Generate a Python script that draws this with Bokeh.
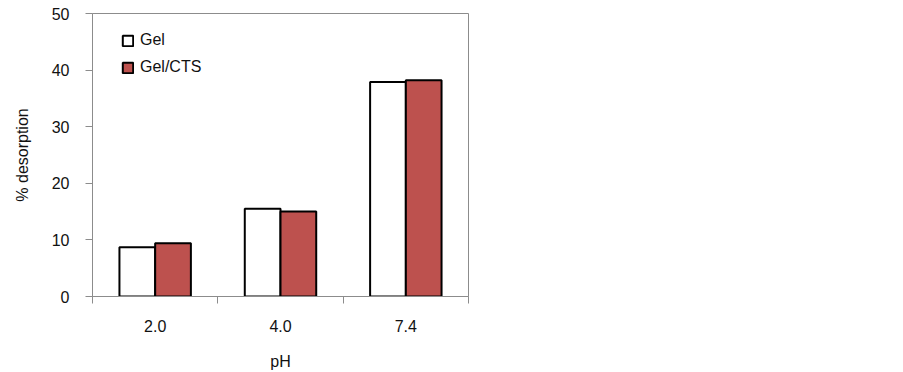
from bokeh.plotting import figure
from bokeh.models import ColumnDataSource, FixedTicker, Range1d, Legend, LegendItem
from bokeh.embed import file_html
from bokeh.resources import INLINE

categories = ["2.0", "4.0", "7.4"]
gel = [8.7, 15.5, 37.9]
gel_cts = [9.4, 15.0, 38.2]
y_ticks = [0, 10, 20, 30, 40, 50]

FONT = "Liberation Sans"
AX = "#8C8C8C"
FS = "16px"

idx = list(range(len(categories)))
src = ColumnDataSource(dict(
    x_gel=[i + 0.5 - 0.1425 for i in idx],
    x_cts=[i + 0.5 + 0.1425 for i in idx],
    gel=gel, cts=gel_cts,
))

p = figure(width=488, height=368, output_backend="svg", toolbar_location=None,
           x_range=Range1d(0, len(categories)), y_range=Range1d(0, 50),
           frame_width=376, frame_height=283,
           min_border_left=92, min_border_top=13, min_border_right=20, min_border_bottom=72)
p.background_fill_color = "white"
p.border_fill_color = "white"
p.outline_line_color = AX
p.outline_line_width = 1
p.xgrid.visible = False
p.ygrid.visible = False

r1 = p.vbar(x="x_gel", top="gel", width=0.285, source=src, fill_color="white",
            line_color="black", line_width=2)
r2 = p.vbar(x="x_cts", top="cts", width=0.285, source=src, fill_color="#BD514E",
            line_color="black", line_width=2)

xa = p.xaxis[0]
xa.ticker = FixedTicker(ticks=[i + 0.5 for i in idx], minor_ticks=list(range(len(categories) + 1)))
xa.major_label_overrides = {i + 0.5: c for i, c in zip(idx, categories)}
xa.major_tick_out = 0
xa.major_tick_in = 0
xa.minor_tick_out = 7
xa.minor_tick_in = 0
xa.minor_tick_line_color = AX
xa.axis_line_color = AX
xa.major_label_standoff = 16
xa.major_label_text_font = FONT
xa.major_label_text_font_size = FS
xa.major_label_text_color = "#111111"
xa.axis_label = "pH"
xa.axis_label_text_font = FONT
xa.axis_label_text_font_size = FS
xa.axis_label_text_font_style = "normal"
xa.axis_label_text_color = "#111111"
xa.axis_label_standoff = 18

ya = p.yaxis[0]
ya.ticker = FixedTicker(ticks=y_ticks)
ya.major_tick_out = 7
ya.major_tick_in = 0
ya.minor_tick_out = 0
ya.minor_tick_in = 0
ya.major_tick_line_color = AX
ya.axis_line_color = AX
ya.major_label_standoff = 16
ya.major_label_text_font = FONT
ya.major_label_text_font_size = FS
ya.major_label_text_color = "#111111"
ya.axis_label = "% desorption"
ya.axis_label_text_font = FONT
ya.axis_label_text_font_size = FS
ya.axis_label_text_font_style = "normal"
ya.axis_label_text_color = "#111111"
ya.axis_label_standoff = 18

legend = Legend(items=[LegendItem(label="Gel", renderers=[r1]),
                       LegendItem(label="Gel/CTS", renderers=[r2])],
                location=(29, 220), orientation="vertical",
                glyph_width=13, glyph_height=13, label_height=13, spacing=9,
                padding=0, margin=0, label_standoff=6,
                label_text_font=FONT, label_text_font_size=FS,
                label_text_color="#111111",
                border_line_color=None, background_fill_alpha=0)
p.add_layout(legend)

open("out.html", "w").write(file_html(p, INLINE))
